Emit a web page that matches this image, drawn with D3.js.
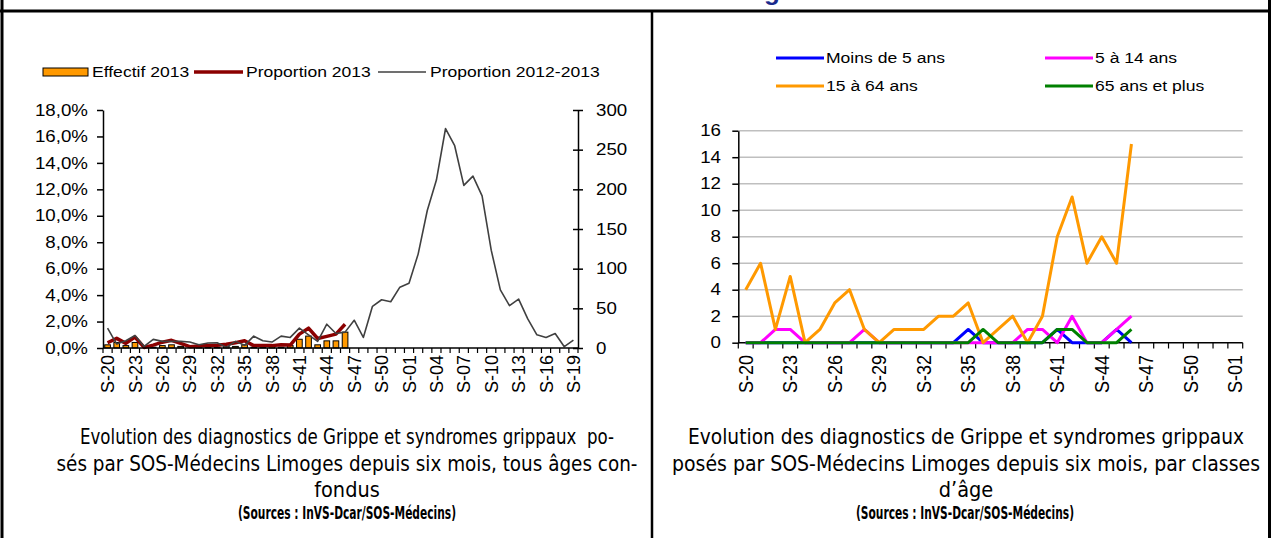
<!DOCTYPE html>
<html><head><meta charset="utf-8">
<script src="https://cdn.jsdelivr.net/npm/d3@7"></script>
<style>body{margin:0;background:#fff}svg{display:block}</style>
</head><body>
<svg id="c" width="1271" height="538"></svg>
<script>
// ---------- DATA ----------
const weeks = ["S-20","S-21","S-22","S-23","S-24","S-25","S-26","S-27","S-28","S-29","S-30","S-31","S-32","S-33","S-34","S-35","S-36","S-37","S-38","S-39","S-40","S-41","S-42","S-43","S-44","S-45","S-46","S-47","S-48","S-49","S-50","S-51","S-52","S-01","S-02","S-03","S-04","S-05","S-06","S-07","S-08","S-09","S-10","S-11","S-12","S-13","S-14","S-15","S-16","S-17","S-18","S-19"];
const effectif2013 = [4,7,3,7,0,1,3,4,2,0,1,1,1,2,2,4,1,1,2,1,3,11,15,4,9,9,20];
const proportion2013 = [0.40,0.73,0.35,0.83,0.04,0.22,0.44,0.58,0.35,0.10,0.15,0.18,0.20,0.28,0.40,0.55,0.18,0.18,0.18,0.25,0.22,1.05,1.50,0.72,0.88,1.05,1.80];
const proportion20122013 = [1.50,0.30,0.55,0.95,0.12,0.65,0.50,0.50,0.50,0.45,0.25,0.38,0.40,0.05,0.50,0.20,0.90,0.55,0.45,0.90,0.80,1.50,1.00,0.50,1.80,1.10,1.20,2.10,0.80,3.15,3.65,3.50,4.60,4.90,7.10,10.40,12.70,16.60,15.30,12.30,13.00,11.50,7.40,4.40,3.20,3.70,2.20,1.00,0.80,1.10,0.10,0.60];
const pctTicks = [0,2,4,6,8,10,12,14,16,18];
const countTicks = [0,50,100,150,200,250,300];

const ageWeeks = ["S-20","S-21","S-22","S-23","S-24","S-25","S-26","S-27","S-28","S-29","S-30","S-31","S-32","S-33","S-34","S-35","S-36","S-37","S-38","S-39","S-40","S-41","S-42","S-43","S-44","S-45","S-46","S-47","S-48","S-49","S-50","S-51","S-52","S-01"];
const moins5 = [0,0,0,0,0,0,0,0,0,0,0,0,0,0,0,1,0,0,0,0,0,1,0,0,0,1,0];
const de5a14 = [0,0,1,1,0,0,0,0,1,0,0,0,0,0,0,0,0,0,0,1,1,0,2,0,0,1,2];
const de15a64 = [4,6,1,5,0,1,3,4,1,0,1,1,1,2,2,3,0,1,2,0,2,8,11,6,8,6,15];
const plus65 = [0,0,0,0,0,0,0,0,0,0,0,0,0,0,0,0,1,0,0,0,0,1,1,0,0,0,1];
const ageTicks = [0,2,4,6,8,10,12,14,16];
const ageNames = ["Moins de 5 ans","5 à 14 ans","15 à 64 ans","65 ans et plus"];
const ageColors = ["#0000FF","#FF00FF","#FF9900","#008000"];

const leftCaption = ["Evolution des diagnostics de Grippe et syndromes grippaux  po-","sés par SOS-Médecins Limoges depuis six mois, tous âges con-","fondus"];
const rightCaption = ["Evolution des diagnostics de Grippe et syndromes grippaux","posés par SOS-Médecins Limoges depuis six mois, par classes","d’âge"];
const sourceText = "(Sources : InVS-Dcar/SOS-Médecins)";

// ---------- HELPERS ----------
const svg = d3.select("#c");
const FONT = 'Arial, "Liberation Sans", sans-serif';
const NARROW = '"Liberation Sans Narrow", "Arial Narrow", "DejaVu Sans Condensed", sans-serif';
function txt(p, x, y, s, o = {}) {
  const sx = o.sx ?? 1.17;
  const tr = `translate(${x},${y}) scale(${sx},1)` + (o.rot ? ` rotate(${o.rot})` : "");
  const t = p.append("text").attr("transform", tr).text(s)
    .attr("font-family", o.family || FONT)
    .attr("font-size", o.size || 15)
    .attr("text-anchor", o.anchor || "start")
    .attr("fill", o.fill || "#000");
  if (o.dy) t.attr("dy", o.dy);
  if (o.weight) t.attr("font-weight", o.weight);
  if (o.len) t.attr("textLength", o.len).attr("lengthAdjust", "spacingAndGlyphs");
  if (o.pre) t.style("white-space", "pre");
  return t;
}

// ---------- FRAME ----------
svg.append("line").attr("x1",0).attr("x2",1271).attr("y1",11).attr("y2",11).attr("stroke","#000").attr("stroke-width",3);
svg.append("line").attr("x1",2).attr("x2",2).attr("y1",0).attr("y2",538).attr("stroke","#000").attr("stroke-width",3);
svg.append("line").attr("x1",652).attr("x2",652).attr("y1",11).attr("y2",538).attr("stroke","#000").attr("stroke-width",2.5);
svg.append("line").attr("x1",1269.5).attr("x2",1269.5).attr("y1",0).attr("y2",538).attr("stroke","#000").attr("stroke-width",3);
// partially visible title glyph above the frame (the reference cuts it at the top edge)
txt(svg, 772, 0, "g", {size: 26, anchor: "middle", weight: "bold", fill: "#1a2a8c", sx: 1});

// ---------- LEFT CHART ----------
const L = svg.append("g");
const x = d3.scaleBand().domain(weeks).range([103, 578]);
const xb = d3.scaleBand().domain(weeks).range([103, 578]).paddingInner(0.38).paddingOuter(0.19);
const yPct = d3.scaleLinear().domain([0, 18]).range([348, 110]);
const yCnt = d3.scaleLinear().domain([0, 300]).range([348, 110]);

// bars
L.selectAll("rect.bar").data(effectif2013).join("rect")
  .attr("x", (d, i) => xb(weeks[i])).attr("width", xb.bandwidth())
  .attr("y", d => yCnt(d)).attr("height", d => yCnt(0) - yCnt(d))
  .attr("fill", "#FF9900").attr("stroke", "#000").attr("stroke-width", 1);

// lines
const lineL = d3.line().x((d, i) => x(weeks[i]) + x.bandwidth() / 2).y(d => yPct(d));
L.append("path").attr("d", lineL(proportion2013)).attr("fill","none").attr("stroke","#8B0000").attr("stroke-width",3.5).attr("stroke-linejoin","round");
L.append("path").attr("d", lineL(proportion20122013)).attr("fill","none").attr("stroke","#404040").attr("stroke-width",1.6).attr("stroke-linejoin","round");

// left axis
const axL = L.append("g").attr("transform","translate(103,0)")
  .call(d3.axisLeft(yPct).tickValues(pctTicks).tickSize(6).tickSizeOuter(0).tickFormat(""));
axL.selectAll("path,line").attr("stroke","#000").attr("stroke-width",1.5);
pctTicks.forEach(t => txt(L, 88, yPct(t), t.toFixed(1).replace(".", ",") + "%", {size: 16, anchor: "end", dy: "0.35em"}));

// right axis
const axR = L.append("g").attr("transform","translate(578,0)")
  .call(d3.axisRight(yCnt).tickValues(countTicks).tickSize(5).tickSizeOuter(0).tickFormat(""));
axR.selectAll("line").attr("x1", -5);
axR.selectAll("path,line").attr("stroke","#000").attr("stroke-width",1.5);
countTicks.forEach(t => txt(L, 596, yCnt(t), String(t), {size: 16, anchor: "start", dy: "0.35em"}));

// x axis
L.append("line").attr("x1",103).attr("x2",578).attr("y1",348).attr("y2",348).attr("stroke","#000").attr("stroke-width",1.5);
weeks.forEach(w => L.append("line").attr("x1", x(w)).attr("x2", x(w)).attr("y1",348).attr("y2",353).attr("stroke","#000").attr("stroke-width",1.2));
L.append("line").attr("x1",578).attr("x2",578).attr("y1",348).attr("y2",353).attr("stroke","#000").attr("stroke-width",1.2);
weeks.forEach((w, i) => { if (i % 3 === 0) txt(L, x(w) + x.bandwidth()/2, 355, w, {size: 18, anchor: "end", rot: -90, dy: "0.35em", sx: 1.05}); });

// legend
L.append("rect").attr("x",43).attr("y",68).attr("width",45).attr("height",8).attr("fill","#FF9900").attr("stroke","#000").attr("stroke-width",1);
txt(L, 92, 72, "Effectif 2013", {size: 15, dy: "0.35em"});
L.append("line").attr("x1",194).attr("x2",243).attr("y1",72).attr("y2",72).attr("stroke","#8B0000").attr("stroke-width",3.5);
txt(L, 246, 72, "Proportion 2013", {size: 15, dy: "0.35em"});
L.append("line").attr("x1",378).attr("x2",426).attr("y1",72).attr("y2",72).attr("stroke","#404040").attr("stroke-width",1.5);
txt(L, 430, 72, "Proportion 2012-2013", {size: 15, dy: "0.35em"});

// ---------- RIGHT CHART ----------
const R = svg.append("g");
const x2 = d3.scaleBand().domain(ageWeeks).range([738.3, 1242.7]);
const y2 = d3.scaleLinear().domain([0, 16]).range([342.7, 130.7]);

// gridlines
ageTicks.filter(t => t > 0).forEach(t => R.append("line").attr("x1",738.3).attr("x2",1242.7).attr("y1",y2(t)).attr("y2",y2(t)).attr("stroke","#BFBFBF").attr("stroke-width",1.5));

// axes
const ay2 = R.append("g").attr("transform","translate(738.3,0)")
  .call(d3.axisLeft(y2).tickValues(ageTicks).tickSize(6).tickSizeOuter(0).tickFormat(""));
ay2.selectAll("path,line").attr("stroke","#000").attr("stroke-width",1.5);
ageTicks.forEach(t => txt(R, 721, y2(t), String(t), {size: 16, anchor: "end", dy: "0.35em"}));

R.append("line").attr("x1",738.3).attr("x2",1242.7).attr("y1",342.7).attr("y2",342.7).attr("stroke","#000").attr("stroke-width",1.5);
ageWeeks.forEach(w => R.append("line").attr("x1", x2(w)).attr("x2", x2(w)).attr("y1",342.7).attr("y2",348.5).attr("stroke","#000").attr("stroke-width",1.2));
R.append("line").attr("x1",1242.7).attr("x2",1242.7).attr("y1",342.7).attr("y2",348.5).attr("stroke","#000").attr("stroke-width",1.2);
ageWeeks.forEach((w, i) => { if (i % 3 === 0) txt(R, x2(w) + x2.bandwidth()/2, 355, w, {size: 18, anchor: "end", rot: -90, dy: "0.35em", sx: 1.12}); });

// lines
const lineR = d3.line().x((d, i) => x2(ageWeeks[i]) + x2.bandwidth() / 2).y(d => y2(d));
[moins5, de5a14, de15a64, plus65].forEach((s, k) => {
  R.append("path").attr("d", lineR(s)).attr("fill","none").attr("stroke", ageColors[k]).attr("stroke-width",3).attr("stroke-linejoin","round");
});

// legend
const legPos = [[776, 58], [1045, 58], [776, 86], [1045, 86]];
ageNames.forEach((n, k) => {
  const [lx, ly] = legPos[k];
  R.append("line").attr("x1", lx).attr("x2", lx + 48).attr("y1", ly).attr("y2", ly).attr("stroke", ageColors[k]).attr("stroke-width", 3);
  txt(R, lx + 50, ly, n, {size: 15, dy: "0.35em"});
});

// ---------- CAPTIONS ----------
const capY = [444, 471, 497];
const leftLens = [534, 581, null];
const rightLens = [556, 588, null];
const rightSizes = [21.5, 20.5, 21.5];
leftCaption.forEach((s, i) => txt(svg, 347, capY[i], s, {size: 21.5, anchor: "middle", family: NARROW, sx: 1, len: leftLens[i], pre: true}));
rightCaption.forEach((s, i) => txt(svg, 966, capY[i], s, {size: rightSizes[i], anchor: "middle", family: NARROW, sx: 1, len: rightLens[i]}));
txt(svg, 347, 519, sourceText, {size: 17, anchor: "middle", family: NARROW, weight: "bold", sx: 1, len: 218});
txt(svg, 965, 519, sourceText, {size: 17, anchor: "middle", family: NARROW, weight: "bold", sx: 1, len: 218});
</script>
</body></html>
